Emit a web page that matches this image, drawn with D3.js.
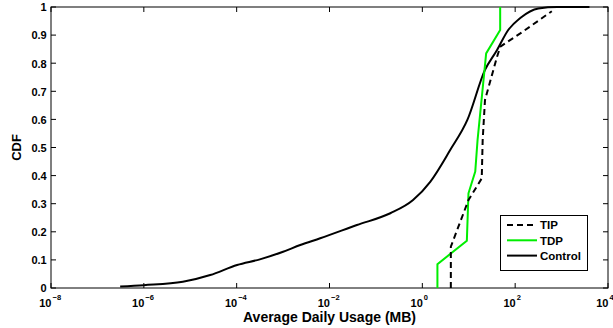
<!DOCTYPE html>
<html>
<head>
<meta charset="utf-8">
<script src="https://cdn.jsdelivr.net/npm/d3@7.9.0/dist/d3.min.js"></script>
<style>
  body { margin: 0; background: #fff; }
  text { font-family: "Liberation Sans", Arial, sans-serif; font-weight: bold; fill: #000; }
</style>
</head>
<body>
<svg id="chart" width="613" height="328"></svg>
<script>
// values: [log10(MB), CDF]
const controlPts = [
  [-6.51, 0.005], [-6.0, 0.01], [-5.16, 0.022], [-4.57, 0.046], [-3.99, 0.082],
  [-3.5, 0.102], [-3.0, 0.129], [-2.63, 0.153], [-2.2, 0.177], [-1.41, 0.224],
  [-0.69, 0.266], [-0.2, 0.313], [0.17, 0.378], [0.6, 0.491], [0.97, 0.598],
  [1.35, 0.776], [1.61, 0.847], [1.85, 0.918], [2.11, 0.961], [2.5, 0.995],
  [2.91, 1.0], [3.6, 1.0]
];
const tipPts = [
  [0.614, 0], [0.614, 0.147], [0.994, 0.313], [1.28, 0.39], [1.3, 0.527],
  [1.35, 0.669], [1.61, 0.823], [1.68, 0.859], [2.11, 0.906], [2.79, 0.985]
];
const tdpPts = [
  [0.325, 0], [0.325, 0.085], [0.959, 0.168], [0.994, 0.337], [1.14, 0.414],
  [1.19, 0.527], [1.375, 0.835], [1.677, 0.918], [1.677, 1.0]
];
const xTicks = [-8, -6, -4, -2, 0, 2, 4];
const yTicks = [0, 0.1, 0.2, 0.3, 0.4, 0.5, 0.6, 0.7, 0.8, 0.9, 1];
const seriesNames = ['TIP', 'TDP', 'Control'];

const svg = d3.select('#chart');
const plotL = 51, plotR = 608, plotT = 7, plotB = 288;

const x = d3.scaleLog().domain([1e-8, 1e4]).range([plotL, plotR]);
const y = d3.scaleLinear().domain([0, 1]).range([plotB, plotT]);

// frame
svg.append('rect')
  .attr('x', plotL).attr('y', plotT)
  .attr('width', plotR - plotL).attr('height', plotB - plotT)
  .attr('fill', 'none').attr('stroke', '#000').attr('stroke-width', 1);

// ticks inside on all sides
const tickLen = 5;
xTicks.forEach((e) => {
  let px = x(Math.pow(10, e));
  svg.append('line').attr('x1', px).attr('x2', px).attr('y1', plotB).attr('y2', plotB - tickLen).attr('stroke', '#000');
  svg.append('line').attr('x1', px).attr('x2', px).attr('y1', plotT).attr('y2', plotT + tickLen).attr('stroke', '#000');
  // "10" ends at the tick, exponent starts right after it
  svg.append('text')
    .attr('x', px + 0.5).attr('y', 306.5)
    .attr('text-anchor', 'end')
    .attr('font-size', 11)
    .text('10');
  svg.append('text')
    .attr('x', px + 1.5).attr('y', 299.5)
    .attr('font-size', 7.5)
    .text(e === 0 ? '0' : String(e).replace('-', '\u2212'));
});

yTicks.forEach((v) => {
  let py = y(v);
  svg.append('line').attr('x1', plotL).attr('x2', plotL + tickLen).attr('y1', py).attr('y2', py).attr('stroke', '#000');
  svg.append('line').attr('x1', plotR).attr('x2', plotR - tickLen).attr('y1', py).attr('y2', py).attr('stroke', '#000');
  svg.append('text')
    .attr('x', plotL - 4.3).attr('y', py + 4.3)
    .attr('text-anchor', 'end')
    .attr('font-size', 11)
    .text(v === 0 || v === 1 ? String(v) : v.toFixed(1));
});

// axis titles
svg.append('text')
  .attr('x', (plotL + plotR) / 2).attr('y', 322)
  .attr('text-anchor', 'middle').attr('font-size', 14)
  .text('Average Daily Usage (MB)');
svg.append('text')
  .attr('transform', `translate(20.5,${(plotT + plotB) / 2}) rotate(-90)`)
  .attr('text-anchor', 'middle').attr('font-size', 13)
  .text('CDF');

const line = d3.line()
  .x((d) => x(Math.pow(10, d[0])))
  .y((d) => y(d[1]))
  .curve(d3.curveLinear);

const smooth = d3.line()
  .x((d) => x(Math.pow(10, d[0])))
  .y((d) => y(d[1]))
  .curve(d3.curveMonotoneX);

const styles = {
  TIP: { color: '#000', dash: '6,4' },
  TDP: { color: '#00ee00', dash: null },
  Control: { color: '#000', dash: null }
};

svg.append('path').datum(controlPts)
  .attr('d', smooth).attr('fill', 'none')
  .attr('stroke', styles.Control.color).attr('stroke-width', 2);
svg.append('path').datum(tdpPts)
  .attr('d', line).attr('fill', 'none')
  .attr('stroke', styles.TDP.color).attr('stroke-width', 2);
svg.append('path').datum(tipPts)
  .attr('d', line).attr('fill', 'none')
  .attr('stroke', styles.TIP.color).attr('stroke-width', 2)
  .attr('stroke-dasharray', styles.TIP.dash);

// legend
const lg = svg.append('g');
lg.append('rect')
  .attr('x', 500.5).attr('y', 215.5).attr('width', 87).attr('height', 55)
  .attr('fill', '#fff').attr('stroke', '#000');
seriesNames.forEach((name, i) => {
  let ly = 225 + i * 15.3;
  lg.append('line')
    .attr('x1', 507).attr('x2', 537).attr('y1', ly).attr('y2', ly)
    .attr('stroke', styles[name].color).attr('stroke-width', 2)
    .attr('stroke-dasharray', styles[name].dash);
  lg.append('text')
    .attr('x', 540).attr('y', ly + 4.3)
    .attr('font-size', 11.5)
    .text(name);
});
</script>
</body>
</html>
